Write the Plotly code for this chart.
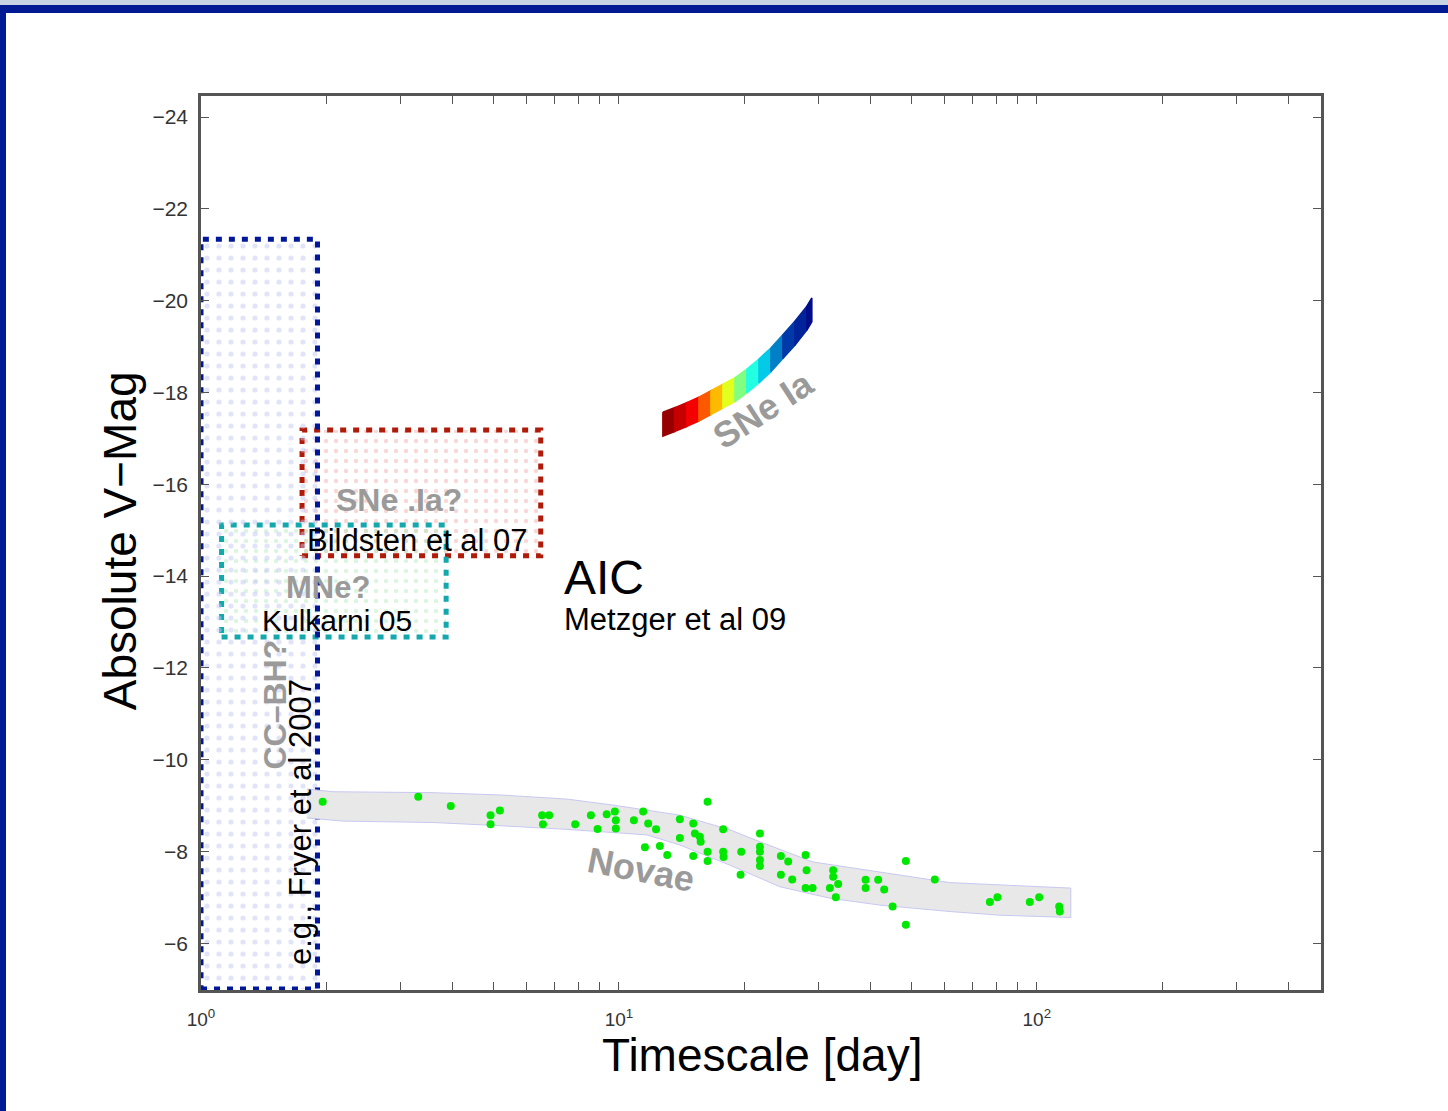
import numpy as np
import plotly.graph_objects as go
from plotly.colors import sample_colorscale

# ---------------- data ----------------
# Novae observations (timescale [day], absolute V mag)
novae_t = [1.955, 3.31, 3.96, 4.93, 4.93, 5.19, 6.55, 6.81, 6.58, 7.86, 8.57, 8.89,
           9.35, 9.78, 9.83, 9.83, 10.86, 11.43, 11.75, 12.27, 11.54, 12.53, 13.05,
           13.99, 13.99, 15.06, 15.20, 15.62, 15.69, 15.06, 16.30, 16.30, 16.30,
           17.76, 17.76, 17.8, 19.62, 19.55, 21.75, 21.75, 21.75, 21.75, 21.75,
           24.41, 25.41, 24.41, 25.98, 27.97, 28.12, 27.97, 29.07, 32.56, 32.56,
           33.47, 31.98, 33.04, 38.93, 38.93, 41.72, 43.13, 45.17, 48.6, 48.6,
           57.0, 77.2, 80.5, 96.2, 101.3, 113.1, 113.5]
novae_mag = [-9.08, -9.19, -8.99, -8.79, -8.59, -8.89, -8.79, -8.79, -8.59, -8.59, -8.79, -8.49,
             -8.81, -8.87, -8.50, -8.68, -8.68, -8.87, -8.61, -8.48, -8.09, -8.12, -7.92,
             -8.70, -8.29, -8.61, -8.39, -8.32, -8.21, -7.90, -9.08, -7.99, -7.79,
             -8.48, -7.99, -7.88, -7.99, -7.49, -8.39, -8.10, -7.99, -7.81, -7.68,
             -7.90, -7.78, -7.49, -7.39, -7.92, -7.59, -7.20, -7.20, -7.59, -7.45,
             -7.29, -7.20, -7.00, -7.38, -7.20, -7.38, -7.17, -6.80, -7.79, -6.40,
             -7.39, -6.90, -7.00, -6.90, -7.00, -6.80, -6.69]

# Novae band (upper / lower envelope)
band_up_t = [1.793, 2.07, 3.59, 5.19, 7.51, 9.67, 13.99, 18.44, 21.75, 29.12, 42.11, 61.9, 81.6, 120.6]
band_up_mag = [-9.36, -9.30, -9.28, -9.23, -9.14, -9.01, -8.79, -8.47, -8.21, -7.77, -7.55, -7.32, -7.27, -7.20]
band_lo_t = [1.793, 2.19, 3.59, 5.19, 7.51, 11.67, 13.99, 18.44, 24.28, 31.98, 42.11, 61.9, 81.6, 120.6]
band_lo_mag = [-8.73, -8.66, -8.63, -8.56, -8.48, -8.36, -8.14, -7.70, -7.23, -6.98, -6.83, -6.69, -6.61, -6.56]

# SNe Ia band centre line
sne_t = [12.74, 13.61, 14.54, 15.54, 16.60, 17.74, 18.95, 20.24, 21.63, 23.10, 24.68, 26.37, 28.17, 28.95]
sne_mag = [-17.31, -17.41, -17.52, -17.64, -17.78, -17.92, -18.06, -18.25, -18.47, -18.71,
           -19.00, -19.29, -19.62, -19.80]
sne_halfwidth = 0.26

# Boxes: (t_min, t_max, mag_faint, mag_bright)
cc_box = (1.0, 1.9, -5.0, -21.34)
sne_dot_box = (1.745, 6.5, -14.44, -17.18)
mne_box = (1.12, 3.86, -12.67, -15.11)

y_ticks = [-24, -22, -20, -18, -16, -14, -12, -10, -8, -6]
x_decades = [1, 10, 100]
x_decade_labels = ["10<sup>0</sup>", "10<sup>1</sup>", "10<sup>2</sup>"]

FONT = "Liberation Sans, Arial, sans-serif"
GRAY = "#9a9a9a"

fig = go.Figure()


def box_trace(b, line_color, dot_color, pattern_size):
    t0, t1, m0, m1 = b
    return go.Scatter(
        x=[t0, t1, t1, t0, t0], y=[m0, m0, m1, m1, m0], mode="lines",
        fill="toself", fillcolor="rgba(0,0,0,0)",
        fillpattern=dict(shape=".", fgcolor=dot_color, bgcolor="rgba(255,255,255,0)",
                         size=pattern_size, solidity=0.15, fillmode="overlay"),
        line=dict(color=line_color, width=5, dash="6px,7px"),
        hoverinfo="skip", showlegend=False)


# Box fills + outlines (red, cyan, then blue on top)
fig.add_trace(box_trace(sne_dot_box, "#b01a08", "#f2b0b0", 10))
fig.add_trace(box_trace(mne_box, "#12a8ad", "#b8ecc0", 10))
fig.add_trace(box_trace(cc_box, "#00179a", "#c4c8f4", 12))

# Novae band
fig.add_trace(go.Scatter(
    x=band_up_t + band_lo_t[::-1], y=band_up_mag + band_lo_mag[::-1],
    mode="lines", fill="toself", fillcolor="#e8e8e8",
    line=dict(color="#c8c8f2", width=1), hoverinfo="skip", showlegend=False))

# SNe Ia band coloured with jet
n = len(sne_t)
for i in range(n - 1):
    f = (i + 0.5) / (n - 1)
    col = sample_colorscale("Jet", [1 - f])[0]
    xs = [sne_t[i], sne_t[i + 1], sne_t[i + 1], sne_t[i], sne_t[i]]
    ys = [sne_mag[i] - sne_halfwidth, sne_mag[i + 1] - sne_halfwidth,
          sne_mag[i + 1] + sne_halfwidth, sne_mag[i] + sne_halfwidth,
          sne_mag[i] - sne_halfwidth]
    fig.add_trace(go.Scatter(x=xs, y=ys, mode="lines", fill="toself", fillcolor=col,
                             line=dict(color=col, width=1.5), hoverinfo="skip",
                             showlegend=False))

# Novae points
fig.add_trace(go.Scatter(x=novae_t, y=novae_mag, mode="markers",
                         marker=dict(color="#00e800", size=8, line=dict(width=0)),
                         hoverinfo="skip", showlegend=False))

L = np.log10
ann = []


def txt(t, m, s, size, color="black", bold=False, angle=0, xanchor="center"):
    ann.append(dict(x=float(L(t)), y=m, xref="x", yref="y", text=("<b>%s</b>" % s) if bold else s,
                    showarrow=False, textangle=angle, xanchor=xanchor, yanchor="middle",
                    font=dict(family=FONT, size=size, color=color)))


txt(1.50, -11.19, "CC–BH?", 32, GRAY, True, -90)
txt(1.726, -8.64, "e.g., Fryer et al 2007", 31, "black", False, -90)
txt(2.98, -15.66, "SNe .Ia?", 32, GRAY, True)
txt(3.30, -14.78, "Bildsten et al 07", 31)
txt(2.01, -13.74, "MNe?", 31, GRAY, True)
txt(2.12, -13.04, "Kulkarni 05", 30)
txt(7.31, -13.96, "AIC", 48, xanchor="left")
txt(7.31, -13.06, "Metzger et al 09", 31, xanchor="left")
txt(22.2, -17.62, "SNe Ia", 36, GRAY, True, -33)
txt(11.3, -7.6, "Novae", 36, GRAY, True, 11)

# Axis titles
ann.append(dict(x=-0.0723, y=0.502, xref="paper", yref="paper", text="Absolute V−Mag",
                showarrow=False, textangle=-90, xanchor="center", yanchor="middle",
                font=dict(family=FONT, size=46, color="black")))
ann.append(dict(x=0.501, y=-0.0727, xref="paper", yref="paper", text="Timescale [day]",
                showarrow=False, xanchor="center", yanchor="middle",
                font=dict(family=FONT, size=46, color="black")))

# minor x tick positions (2..9 per decade)
x_minor = [d * k for d in x_decades for k in range(2, 10) if d * k <= 480]

# page border shapes (paper coords; plot area spans px 201..1321 x 96..990)
def px_x(p):
    return (p - 201) / 1120.0


def px_y(p):
    return (990 - p) / 894.0


shapes = [
    dict(type="rect", xref="paper", yref="paper", x0=px_x(0), x1=px_x(1448), y0=px_y(5), y1=px_y(0),
         fillcolor="#c8d4e4", line=dict(width=0), layer="below"),
    dict(type="rect", xref="paper", yref="paper", x0=px_x(0), x1=px_x(1448), y0=px_y(13), y1=px_y(5),
         fillcolor="#001a94", line=dict(width=0), layer="below"),
    dict(type="rect", xref="paper", yref="paper", x0=px_x(0), x1=px_x(6), y0=px_y(1111), y1=px_y(5),
         fillcolor="#001a94", line=dict(width=0), layer="below"),
]

fig.update_layout(
    width=1448, height=1111,
    margin=dict(l=201, r=127, t=96, b=121),
    paper_bgcolor="white", plot_bgcolor="white",
    showlegend=False,
    annotations=ann, shapes=shapes,
    xaxis=dict(type="log", range=[0, 2.68], tickvals=x_decades, ticktext=x_decade_labels,
               tickangle=0,
               ticks="inside", ticklen=8, tickcolor="#555", showline=True, linecolor="#555",
               linewidth=2.5, mirror="allticks", showgrid=False, zeroline=False,
               minor=dict(tickvals=x_minor, ticks="inside", ticklen=8, tickcolor="#555",
                          showgrid=False),
               tickfont=dict(family=FONT, size=19, color="#333"), ticklabelstandoff=10),
    yaxis=dict(range=[-4.98, -24.46], tickvals=y_ticks, ticktext=["−%d" % abs(v) for v in y_ticks],
               ticks="inside", ticklen=8, tickcolor="#555", showline=True, linecolor="#555",
               linewidth=2.5, mirror="allticks", showgrid=False, zeroline=False,
               tickfont=dict(family=FONT, size=21, color="#333"), ticklabelstandoff=6),
)

fig.write_html("out.html")
